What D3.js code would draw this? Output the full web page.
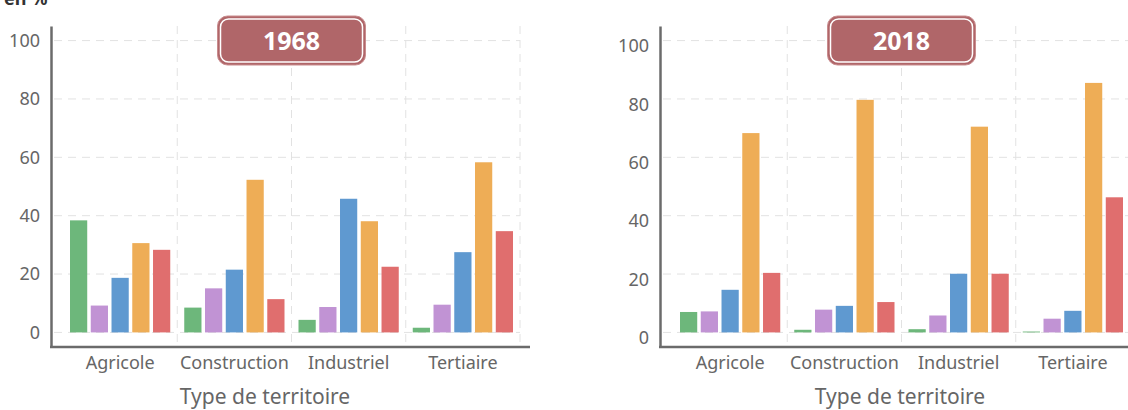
<!DOCTYPE html>
<html><head><meta charset="utf-8">
<script src="https://cdn.jsdelivr.net/npm/d3@7"></script>
<style>
html,body{margin:0;padding:0;background:#fff;}
svg{display:block;font-family:"Noto Sans","Open Sans",sans-serif;}
</style></head>
<body>
<svg id="chart" width="1128" height="410"></svg>
<script>
const categories = ["Agricole", "Construction", "Industriel", "Tertiaire"];
const seriesKeys = ["s1", "s2", "s3", "s4", "s5"];
const seriesColors = ["#6db77b", "#c193d4", "#5f99d0", "#eead56", "#e06e6e"];
const values1968 = [
  [38.4, 9.2, 18.7, 30.6, 28.3],
  [8.5, 15.1, 21.5, 52.3, 11.4],
  [4.3, 8.7, 45.8, 38.1, 22.5],
  [1.6, 9.5, 27.5, 58.3, 34.7]
];
const values2018 = [
  [7.0, 7.2, 14.6, 68.3, 20.4],
  [0.9, 7.8, 9.1, 79.7, 10.4],
  [1.1, 5.8, 20.1, 70.5, 20.1],
  [0.3, 4.7, 7.4, 85.5, 46.3]
];
const yTicks = [0, 20, 40, 60, 80, 100];
const panelTitles = ["1968", "2018"];
const xAxisTitle = "Type de territoire";
const unitLabel = "en %";

const svg = d3.select("#chart");
const FONT = "'Noto Sans','Open Sans',sans-serif";

svg.append("text").attr("x", 4).attr("y", 5)
  .attr("font-size", 18).attr("font-weight", 700).attr("fill", "#333")
  .text(unitLabel);

function panel(cfg, data, title) {
  const g = svg.append("g");
  const y = d3.scaleLinear().domain([-5, 105]).range([347, 26]);
  const x0 = d3.scaleBand().domain(categories).range([cfg.x0, cfg.x0 + 457]).paddingInner(0).paddingOuter(0);
  const x1 = d3.scaleBand().domain(seriesKeys).range([7, x0.bandwidth() - 7]).paddingInner(0.17).paddingOuter(0);

  g.selectAll(".hg").data(yTicks).join("line")
    .attr("x1", cfg.axisX + 3).attr("x2", cfg.x0 + 457)
    .attr("y1", d => y(d)).attr("y2", d => y(d))
    .attr("stroke", "#e2e2e2").attr("stroke-width", 1).attr("stroke-dasharray", "8,6");
  const vb = categories.map(c => x0(c) + x0.bandwidth());
  g.selectAll(".vg").data(vb).join("line")
    .attr("x1", d => d).attr("x2", d => d)
    .attr("y1", 26).attr("y2", 345)
    .attr("stroke", "#e2e2e2").attr("stroke-width", 1).attr("stroke-dasharray", "8,6");

  const groups = g.selectAll(".grp").data(categories).join("g")
    .attr("transform", c => `translate(${x0(c)},0)`);
  groups.selectAll("rect").data((c, i) => data[i].map((v, j) => ({k: seriesKeys[j], v, j})))
    .join("rect")
    .attr("x", d => x1(d.k)).attr("width", x1.bandwidth())
    .attr("y", d => y(d.v)).attr("height", d => y(0) - y(d.v))
    .attr("fill", d => seriesColors[d.j]);

  const ya = d3.axisLeft(y).tickValues(yTicks).tickSize(0).tickPadding(11);
  const yg = g.append("g").attr("transform", `translate(${cfg.axisX},0)`).call(ya);
  yg.select(".domain").attr("stroke", "#6b6b6b").attr("stroke-width", 2.5);
  yg.selectAll("text").attr("font-size", 18).attr("fill", "#666")
    .attr("font-family", FONT).attr("dy", cfg.labelDy);

  g.append("line").attr("x1", cfg.axisX - 1).attr("x2", cfg.x0 + 467)
    .attr("y1", 347).attr("y2", 347).attr("stroke", "#6b6b6b").attr("stroke-width", 2.5);
  const xa = d3.axisBottom(x0).tickSize(0).tickPadding(8);
  const xg = g.append("g").attr("transform", "translate(0,347)").call(xa);
  xg.select(".domain").remove();
  xg.selectAll("text").attr("font-size", 18).attr("fill", "#666")
    .attr("font-family", FONT).attr("dy", "0.75em");

  g.append("text").attr("x", cfg.titleX).attr("y", 404)
    .attr("text-anchor", "middle").attr("font-size", 21).attr("fill", "#666")
    .attr("font-family", FONT)
    .text(xAxisTitle);

  const cx = cfg.x0 + 228.5;
  g.append("rect").attr("x", cx - 74).attr("y", 16).attr("width", 148).attr("height", 49)
    .attr("rx", 10).attr("fill", "#b06669").attr("stroke", "#c98c8e").attr("stroke-width", 1);
  g.append("rect").attr("x", cx - 71).attr("y", 19).attr("width", 142).attr("height", 43)
    .attr("rx", 8).attr("fill", "none").attr("stroke", "#ffffff").attr("stroke-width", 1.5);
  g.append("text").attr("x", cx).attr("y", 41).attr("dy", "0.35em")
    .attr("text-anchor", "middle").attr("font-size", 25).attr("font-weight", 700)
    .attr("font-family", FONT)
    .attr("fill", "#fff").text(title);
}

panel({x0: 63, axisX: 51, titleX: 265, labelDy: "0.32em"}, values1968, panelTitles[0]);
panel({x0: 673, axisX: 660, titleX: 900, labelDy: "0.62em"}, values2018, panelTitles[1]);
</script>
</body></html>
